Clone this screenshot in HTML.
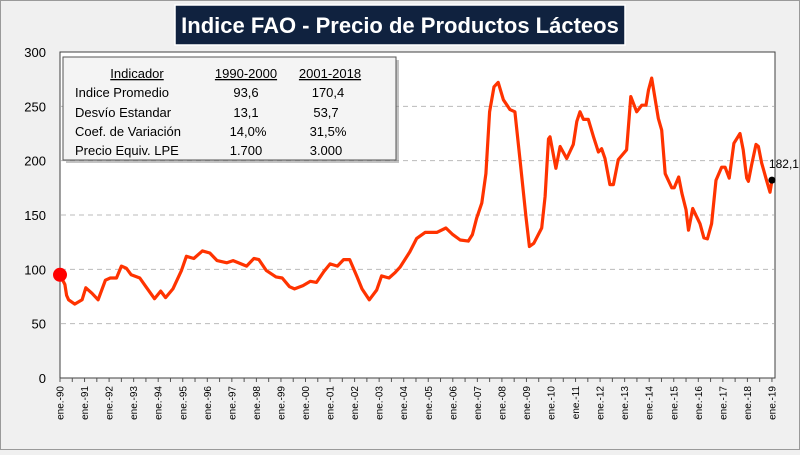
<!DOCTYPE html>
<html><head><meta charset="utf-8"><style>
body{margin:0;width:800px;height:450px;overflow:hidden;background:#f0f0f0;font-family:"Liberation Sans",sans-serif}
</style></head><body>
<svg width="800" height="450" xmlns="http://www.w3.org/2000/svg">
<rect x="0.5" y="0.5" width="799" height="449" fill="#f0f0f0" stroke="#9a9a9a"/>
<rect x="60" y="52" width="715" height="326" fill="#ffffff" stroke="#404040" stroke-width="1"/>
<g id="grid"></g>
<g id="yaxis"></g>
<g id="xaxis"></g>
<path id="line" fill="none" stroke="#ff3300" stroke-width="3.2" stroke-linejoin="round"/>
<circle id="startDot" r="7" fill="#ff0000"/>
<circle id="endDot" r="3.5" fill="#000"/>
<text id="endLabel" font-size="12" fill="#000" text-anchor="middle">182,1</text>
<g>
<rect x="175" y="5" width="450" height="40" fill="#10223f" stroke="#ffffff" stroke-width="1.5"/>
<text x="400" y="33" font-size="22" font-weight="bold" fill="#ffffff" text-anchor="middle">Indice FAO - Precio de Productos Lácteos</text>
</g>
<g font-size="13" fill="#000">
<rect x="66" y="60" width="333" height="103" fill="#888" opacity="0.5"/>
<rect x="63" y="57" width="333" height="103" fill="#f4f4f4" stroke="#555" stroke-width="1"/>
<text x="137" y="78" text-anchor="middle" text-decoration="underline">Indicador</text>
<text x="246" y="78" text-anchor="middle" text-decoration="underline">1990-2000</text>
<text x="330" y="78" text-anchor="middle" text-decoration="underline">2001-2018</text>
<text x="75" y="97">Indice Promedio</text>
<text x="246" y="97" text-anchor="middle">93,6</text>
<text x="328" y="97" text-anchor="middle">170,4</text>
<text x="75" y="117">Desvío Estandar</text>
<text x="246" y="117" text-anchor="middle">13,1</text>
<text x="326" y="117" text-anchor="middle">53,7</text>
<text x="75" y="136">Coef. de Variación</text>
<text x="248" y="136" text-anchor="middle">14,0%</text>
<text x="328" y="136" text-anchor="middle">31,5%</text>
<text x="75" y="155">Precio Equiv. LPE</text>
<text x="246" y="155" text-anchor="middle">1.700</text>
<text x="326" y="155" text-anchor="middle">3.000</text>
</g>
</svg>
<script>
const yTicks=[0,50,100,150,200,250,300];
const xYears=[90,91,92,93,94,95,96,97,98,99,"00","01","02","03","04","05","06","07","08","09",10,11,12,13,14,15,16,17,18,19];
const dates=[1990.0,1990.2,1990.27,1990.35,1990.6,1990.9,1991.05,1991.3,1991.55,1991.85,1992.05,1992.3,1992.5,1992.7,1992.9,1993.25,1993.5,1993.85,1994.1,1994.3,1994.6,1994.95,1995.15,1995.45,1995.8,1996.1,1996.4,1996.8,1997.05,1997.6,1997.9,1998.1,1998.4,1998.8,1999.05,1999.35,1999.55,1999.9,2000.2,2000.45,2000.75,2001.0,2001.3,2001.55,2001.8,2002.1,2002.3,2002.6,2002.9,2003.1,2003.4,2003.65,2003.85,2004.25,2004.53,2004.87,2005.35,2005.72,2006.0,2006.3,2006.63,2006.8,2006.97,2007.18,2007.35,2007.5,2007.68,2007.85,2008.06,2008.33,2008.53,2008.74,2008.98,2009.12,2009.3,2009.62,2009.76,2009.9,2009.96,2010.2,2010.37,2010.64,2010.91,2011.05,2011.18,2011.32,2011.52,2011.73,2011.93,2012.06,2012.2,2012.4,2012.54,2012.74,2013.08,2013.25,2013.49,2013.7,2013.87,2013.97,2014.1,2014.37,2014.51,2014.65,2014.92,2015.02,2015.2,2015.33,2015.5,2015.6,2015.77,2016.07,2016.23,2016.37,2016.54,2016.72,2016.95,2017.09,2017.26,2017.45,2017.7,2017.83,2017.97,2018.04,2018.17,2018.35,2018.45,2018.58,2018.78,2018.92,2019.0];
const values=[95,86,76,72,68,72,83,78,72,90,92,92,103,101,95,92,84,73,80,74,82,99,112,110,117,115,108,106,108,103,110,109,99,93,92,84,82,85,89,88,98,105,103,109,109,93,82,72,81,94,92,97,102,116,128.5,134,134,138,132,127,126,132,147,161,188,245,268,272,256,247,245,200,148,121,124,138,167,220,222,193,213,202,215,236,245,238,238,222,208,211,202,178,178,201,210,259,245,251,251,265,276,239,228,188,175,175,185,170,155,136,156,142,129,128,142,182,194,194,184,216,225,210,184,181,196,215,213,198,182,171,182.1];
const NS="http://www.w3.org/2000/svg";
const X=d=>60+(d-1990)*24.55;
const Y=v=>378-v*326/300;
const grid=document.getElementById('grid'),yax=document.getElementById('yaxis'),xax=document.getElementById('xaxis');
yTicks.forEach(t=>{
  if(t>0&&t<300){const l=document.createElementNS(NS,'line');
  l.setAttribute('x1',61);l.setAttribute('x2',774);l.setAttribute('y1',Y(t));l.setAttribute('y2',Y(t));
  l.setAttribute('stroke','#bbb');l.setAttribute('stroke-dasharray','5,4');
  
  
  grid.appendChild(l);}
  const tx=document.createElementNS(NS,'text');
  tx.setAttribute('x',46);tx.setAttribute('y',Y(t)+5);tx.setAttribute('text-anchor','end');tx.setAttribute('font-size','13');
  tx.textContent=t;
  
  
  yax.appendChild(tx);
});
xYears.forEach((yr,i)=>{
  const x=X(1990+i);
  for(const off of [0,0.5]){ if(i===xYears.length-1&&off>0)continue;
    const tk=document.createElementNS(NS,'line');
    tk.setAttribute('x1',X(1990+i+off));tk.setAttribute('x2',X(1990+i+off));tk.setAttribute('y1',378);tk.setAttribute('y2',382);
    tk.setAttribute('stroke','#555');
    
    
    xax.appendChild(tk);}
  const tx=document.createElementNS(NS,'text');
  tx.setAttribute('transform',`translate(${x+3.5},386) rotate(-90)`);
  tx.setAttribute('text-anchor','end');tx.setAttribute('font-size','10');
  tx.textContent='ene.-'+yr;
  
  
  xax.appendChild(tx);
});
document.getElementById('line').setAttribute('d',dates.map((d,i)=>(i?'L':'M')+X(d).toFixed(1)+','+Y(values[i]).toFixed(1)).join(''));
const n=values.length-1;
const sd=document.getElementById('startDot');sd.setAttribute('cx',X(dates[0]));sd.setAttribute('cy',Y(values[0]));
const ed=document.getElementById('endDot');ed.setAttribute('cx',X(dates[n]));ed.setAttribute('cy',Y(values[n]));
const el=document.getElementById('endLabel');el.setAttribute('x',X(dates[n])+12);el.setAttribute('y',Y(values[n])-12);
</script>
</body></html>
